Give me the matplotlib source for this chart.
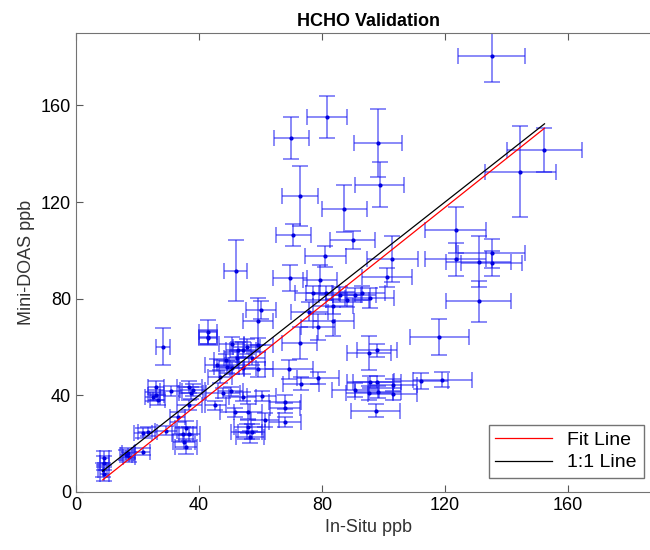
import numpy as np
import matplotlib
matplotlib.use("Agg")
import matplotlib.pyplot as plt

plt.rcParams['font.family'] = ['Liberation Sans', 'DejaVu Sans']

# In-Situ values (ppb) and their errors
insitu = [135.2, 152.4, 144.5, 123.5, 81.6, 70.0, 98.2, 98.8, 72.9, 87.3,
          70.7, 90.0, 81.1, 102.9, 123.5, 131.0, 131.0, 135.2, 135.2, 118.2,
          101.2, 95.6, 92.9, 97.8, 95.3, 112.2, 119.2, 97.5, 73.1, 68.0,
          68.0, 68.0, 60.4, 54.2, 56.0, 61.5, 56.0, 55.5, 57.1, 56.6,
          90.9, 95.4, 103.0, 95.6, 97.8, 103.0, 51.9, 43.0, 43.0, 60.2,
          59.3, 69.6, 79.3, 83.7, 72.8, 78.8, 75.9, 77.2, 81.2, 85.9,
          88.3, 90.7, 83.7, 28.4, 50.6, 52.8, 54.4, 55.5, 57.1, 52.2,
          48.8, 45.8, 49.0, 50.6, 54.4, 59.3, 69.4, 46.8, 59.3, 78.8,
          47.9, 50.3, 51.7, 26.0, 26.0, 24.9, 26.6, 30.9, 36.9, 37.9,
          37.4, 36.9, 45.3, 33.1, 29.3, 35.8, 34.7, 36.9, 35.2, 35.8,
          21.7, 23.3, 21.7, 16.8, 17.3, 16.3, 9.2, 9.2, 8.7, 9.2,
          43.0, 98.1]
insitu_err = [10.8, 12.2, 11.6, 10.0, 6.6, 5.7, 7.8, 8.0, 5.9, 7.2,
              5.8, 7.3, 6.6, 8.3, 10.0, 10.6, 10.6, 11.0, 10.0, 9.5,
              8.2, 8.0, 7.5, 6.5, 7.0, 8.8, 9.6, 7.9, 5.8, 5.2,
              5.0, 5.2, 4.8, 4.5, 4.5, 4.5, 4.5, 5.0, 4.5, 4.5,
              7.5, 7.7, 8.0, 7.5, 7.8, 8.0, 3.8, 3.0, 3.0, 4.8,
              4.9, 5.4, 5.5, 6.6, 5.7, 5.5, 6.0, 6.0, 6.5, 6.8,
              7.0, 7.0, 6.5, 2.3, 4.0, 4.0, 4.2, 4.5, 4.5, 4.0,
              4.0, 3.8, 4.0, 4.0, 4.2, 4.8, 7.8, 3.8, 4.8, 6.8,
              5.5, 4.0, 5.0, 2.5, 2.5, 2.5, 2.5, 3.5, 4.0, 4.0,
              4.0, 4.0, 3.5, 2.5, 3.5, 3.5, 3.5, 3.5, 3.5, 3.5,
              3.0, 3.0, 2.5, 2.0, 2.0, 2.0, 1.5, 1.5, 1.5, 1.5,
              3.0, 7.5]

# Mini-DOAS values (ppb) and their errors
doas = [180.3, 141.6, 132.5, 108.3, 155.3, 146.6, 144.4, 127.1, 122.6, 117.3,
        106.4, 104.3, 97.5, 96.6, 96.3, 95.3, 79.0, 98.9, 94.6, 64.2,
        88.8, 80.3, 82.4, 58.6, 57.5, 45.9, 46.4, 33.7, 44.9, 37.2,
        34.7, 28.9, 39.8, 39.5, 33.3, 29.8, 27.1, 25.0, 25.0, 22.9,
        42.3, 40.9, 44.4, 45.7, 45.7, 40.4, 91.6, 66.2, 63.7, 75.4,
        70.6, 88.6, 87.9, 70.6, 61.6, 68.3, 74.7, 82.4, 82.4, 81.7,
        79.6, 81.5, 76.8, 60.2, 61.1, 58.9, 58.9, 60.2, 55.4, 55.4,
        54.7, 52.6, 51.9, 51.2, 51.3, 50.8, 50.8, 47.8, 60.9, 47.1,
        40.9, 41.6, 32.9, 43.6, 40.2, 39.5, 38.1, 41.9, 43.6, 42.3,
        40.9, 36.1, 35.8, 31.0, 25.4, 26.4, 23.9, 23.9, 20.6, 18.8,
        24.3, 25.0, 16.7, 16.0, 14.6, 15.3, 14.0, 11.9, 9.1, 7.5,
        64.1, 41.5]
doas_err = [10.5, 9.0, 18.8, 9.5, 8.6, 8.7, 14.1, 9.3, 12.5, 9.7,
            4.4, 3.7, 4.3, 9.5, 6.8, 10.6, 8.5, 6.0, 5.0, 7.3,
            4.0, 4.0, 3.0, 2.8, 7.0, 3.4, 3.1, 2.8, 2.6, 3.0,
            2.0, 2.0, 2.0, 2.0, 3.0, 3.0, 2.5, 3.0, 3.0, 2.5,
            3.0, 2.8, 2.5, 2.5, 2.5, 2.5, 12.7, 4.8, 3.0, 3.8,
            9.7, 5.5, 6.0, 6.0, 6.7, 5.2, 3.8, 3.0, 3.0, 3.0,
            3.0, 3.0, 3.0, 7.7, 3.0, 3.0, 3.0, 3.0, 3.0, 3.0,
            2.5, 2.5, 2.5, 2.5, 2.5, 3.0, 4.0, 2.5, 3.0, 2.5,
            2.0, 2.0, 2.0, 2.5, 2.0, 2.0, 2.0, 2.0, 2.5, 2.5,
            2.5, 2.0, 2.0, 2.0, 2.0, 3.0, 3.0, 3.0, 3.0, 3.0,
            2.0, 2.0, 1.5, 2.0, 2.0, 2.0, 3.0, 3.0, 3.0, 3.0,
            3.0, 2.5]

# linear fit coefficients
fit_slope = 1.013
fit_intercept = -3.8

ticks = [0, 40, 80, 120, 160]

fig = plt.figure(figsize=(6.5, 5.5), dpi=100)
ax = fig.add_axes([0.117, 0.1055, 0.8985, 0.8345])

ax.errorbar(insitu, doas, xerr=insitu_err, yerr=doas_err, fmt='.',
            color='#0000e0', markersize=4, ecolor=(0.1, 0.1, 0.95, 0.6),
            elinewidth=1.2, capsize=6, capthick=1.2, zorder=2)

xs = np.array([min(insitu), max(insitu)])
ax.plot(xs, fit_slope * xs + fit_intercept, color='red', lw=0.9,
        label='Fit Line', zorder=3)
ax.plot(xs, xs, color='black', lw=0.9, label='1:1 Line', zorder=3)

ax.set_xlim(0, 190)
ax.set_ylim(0, 190)
ax.set_xticks(ticks)
ax.set_yticks(ticks)
ax.tick_params(direction='in', top=True, right=True, labelsize=13,
               color='0.35', length=5)
for s in ax.spines.values():
    s.set_color('0.45')

ax.set_title('HCHO Validation', fontsize=13, fontweight='bold', pad=5)
ax.set_xlabel('In-Situ ppb', fontsize=13, color='0.2')
ax.set_ylabel('Mini-DOAS ppb', fontsize=13, color='0.2')

leg = ax.legend(loc='lower right', bbox_to_anchor=(0.972, 0.030),
                borderaxespad=0, fontsize=14, fancybox=False,
                handlelength=2.9, borderpad=0.35, labelspacing=0.25,
                framealpha=1)
leg.get_frame().set_edgecolor('0.45')

fig.savefig('out.png', dpi=100)
